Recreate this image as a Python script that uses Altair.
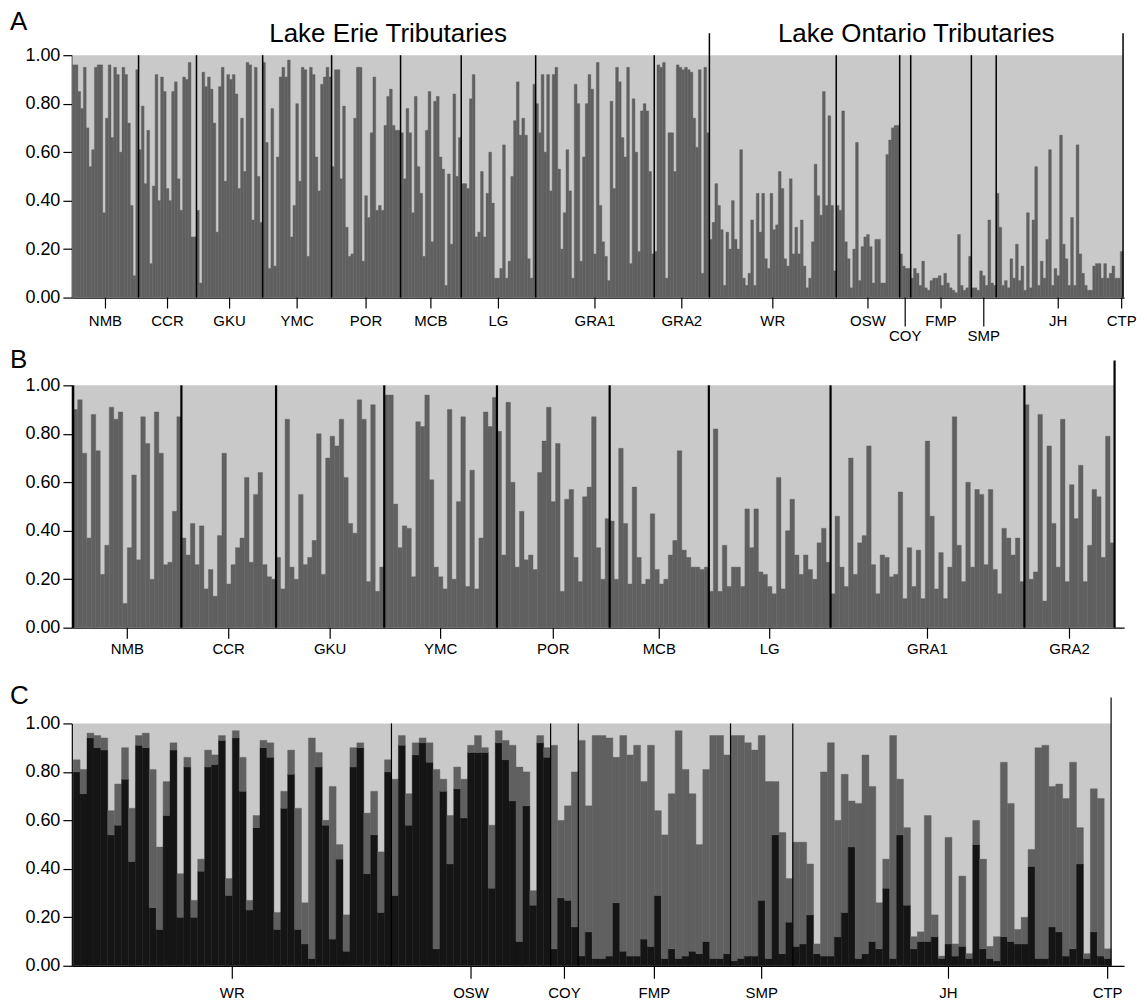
import altair as alt
import pandas as pd

FONT = "Liberation Sans"
LIGHT = "#c9c9c9"
DARK = "#606060"
BLACK = "#151515"

# ---------------- Panel A : all tributaries, proportion of dark cluster ----------------
A_NMB = [0.96, 0.96, 0.85, 0.78, 0.95, 0.70, 0.54, 0.61, 0.95, 0.96, 0.96, 0.35, 0.74, 0.96, 0.66, 0.95, 0.92, 0.60, 0.95, 0.92, 0.72, 0.38, 0.09, 0.94]
A_CCR = [0.61, 0.79, 0.47, 0.69, 0.14, 0.46, 0.92, 0.40, 0.91, 0.85, 0.45, 0.40, 0.85, 0.89, 0.49, 0.36, 0.91, 0.90, 0.97, 0.25, 0.25]
A_GKU = [0.36, 0.06, 0.93, 0.87, 0.91, 0.86, 0.72, 0.27, 0.87, 0.95, 0.48, 0.92, 0.90, 0.92, 0.84, 0.45, 0.74, 0.52, 0.97, 0.96, 0.32, 0.95, 0.50, 0.31]
A_YMC = [0.97, 0.64, 0.12, 0.78, 0.13, 0.58, 0.91, 0.95, 0.91, 0.98, 0.25, 0.38, 0.80, 0.48, 0.95, 0.94, 0.17, 0.95, 0.92, 0.58, 0.44, 0.88, 0.91, 0.95, 0.91]
A_POR = [0.54, 0.94, 0.94, 0.49, 0.79, 0.29, 0.17, 0.18, 0.74, 0.95, 0.95, 0.15, 0.42, 0.33, 0.68, 0.91, 0.36, 0.38, 0.36, 0.71, 0.83, 0.86, 0.71, 0.69, 0.69]
A_MCB = [0.68, 0.49, 0.78, 0.68, 0.35, 0.83, 0.54, 0.43, 0.17, 0.69, 0.85, 0.23, 0.81, 0.83, 0.58, 0.53, 0.05, 0.51, 0.22, 0.84, 0.50, 0.66]
A_LG = [0.47, 0.47, 0.45, 0.82, 0.92, 0.25, 0.27, 0.52, 0.25, 0.43, 0.60, 0.39, 0.08, 0.08, 0.12, 0.63, 0.08, 0.15, 0.50, 0.73, 0.89, 0.67, 0.74, 0.67, 0.16, 0.08, 0.88]
A_GRA1 = [0.80, 0.68, 0.92, 0.60, 0.92, 0.44, 0.92, 0.95, 0.53, 0.20, 0.35, 0.61, 0.44, 0.08, 0.88, 0.80, 0.15, 0.58, 0.80, 0.92, 0.86, 0.18, 0.97,
          0.38, 0.23, 0.17, 0.07, 0.81, 0.45, 0.95, 0.89, 0.66, 0.58, 0.95, 0.14, 0.82, 0.60, 0.19, 0.77, 0.80, 0.77, 0.52, 0.18]
A_GRA2 = [0.19, 0.96, 0.95, 0.97, 0.08, 0.68, 0.68, 0.52, 0.96, 0.95, 0.94, 0.95, 0.94, 0.93, 0.74, 0.62, 0.94, 0.10, 0.95, 0.68]
A_WR = [0.24, 0.31, 0.47, 0.38, 0.28, 0.05, 0.27, 0.20, 0.40, 0.24, 0.20, 0.61, 0.08, 0.05, 0.10, 0.32, 0.05, 0.43, 0.27, 0.43, 0.16, 0.12, 0.43,
        0.28, 0.30, 0.52, 0.45, 0.16, 0.13, 0.49, 0.18, 0.29, 0.18, 0.32, 0.13, 0.04, 0.08, 0.23, 0.55, 0.42, 0.34, 0.85, 0.38, 0.75, 0.38, 0.11]
A_OSW = [0.38, 0.36, 0.77, 0.23, 0.16, 0.04, 0.20, 0.64, 0.07, 0.21, 0.25, 0.26, 0.21, 0.06, 0.24, 0.24, 0.06, 0.06, 0.59, 0.65, 0.70, 0.71, 0.71]
A_COY = [0.18, 0.13, 0.12, 0.12]
A_FMP = [0.08, 0.12, 0.10, 0.05, 0.15, 0.04, 0.03, 0.07, 0.08, 0.08, 0.09, 0.05, 0.10, 0.06, 0.04, 0.03, 0.02, 0.26, 0.05, 0.03, 0.04, 0.17]
A_SMP = [0.04, 0.04, 0.03, 0.11, 0.09, 0.05, 0.32, 0.06, 0.05]
A_JH = [0.43, 0.29, 0.05, 0.07, 0.04, 0.16, 0.08, 0.22, 0.07, 0.13, 0.03, 0.35, 0.04, 0.32, 0.54, 0.05, 0.15, 0.08, 0.24, 0.61, 0.05, 0.12, 0.09,
        0.67, 0.22, 0.16, 0.05, 0.33, 0.05, 0.63, 0.18, 0.10, 0.05, 0.03, 0.03, 0.13, 0.14, 0.14, 0.08, 0.14, 0.08, 0.10, 0.13, 0.08, 0.08]
A_CTP = [0.19]

A_GROUPS = ["NMB", "CCR", "GKU", "YMC", "POR", "MCB", "LG", "GRA1", "GRA2",
            "WR", "OSW", "COY", "FMP", "SMP", "JH", "CTP"]
A_VALUES = [A_NMB, A_CCR, A_GKU, A_YMC, A_POR, A_MCB, A_LG, A_GRA1, A_GRA2,
            A_WR, A_OSW, A_COY, A_FMP, A_SMP, A_JH, A_CTP]
A_LOW_LABELS = ["COY", "SMP"]
A_REGIONS = ["Lake Erie Tributaries", "Lake Ontario Tributaries"]

# ---------------- Panel B : Lake Erie only ----------------
B_NMB = [0.90, 0.94, 0.72, 0.37, 0.88, 0.73, 0.22, 0.34, 0.91, 0.86, 0.89, 0.10, 0.33, 0.63, 0.28, 0.87, 0.76, 0.20, 0.89, 0.72, 0.26, 0.27, 0.48, 0.87]
B_CCR = [0.37, 0.30, 0.43, 0.26, 0.42, 0.16, 0.24, 0.13, 0.38, 0.72, 0.18, 0.26, 0.33, 0.37, 0.62, 0.27, 0.55, 0.64, 0.26, 0.21, 0.20]
B_GKU = [0.29, 0.16, 0.86, 0.25, 0.20, 0.55, 0.26, 0.29, 0.36, 0.80, 0.22, 0.70, 0.79, 0.75, 0.86, 0.62, 0.43, 0.39, 0.94, 0.86, 0.19, 0.92, 0.15, 0.25]
B_YMC = [0.96, 0.96, 0.51, 0.33, 0.42, 0.41, 0.21, 0.85, 0.83, 0.96, 0.61, 0.25, 0.21, 0.16, 0.90, 0.20, 0.52, 0.87, 0.17, 0.65, 0.16, 0.37, 0.89, 0.83, 0.95]
B_POR = [0.81, 0.30, 0.93, 0.60, 0.25, 0.48, 0.28, 0.30, 0.24, 0.64, 0.77, 0.91, 0.52, 0.76, 0.15, 0.53, 0.57, 0.29, 0.19, 0.54, 0.58, 0.87, 0.33, 0.20, 0.45]
B_MCB = [0.44, 0.20, 0.74, 0.43, 0.18, 0.58, 0.29, 0.18, 0.20, 0.47, 0.24, 0.18, 0.20, 0.30, 0.36, 0.73, 0.32, 0.29, 0.25, 0.25, 0.24, 0.25]
B_LG = [0.15, 0.82, 0.15, 0.34, 0.17, 0.25, 0.25, 0.17, 0.49, 0.33, 0.49, 0.23, 0.22, 0.17, 0.14, 0.62, 0.16, 0.40, 0.53, 0.30, 0.22, 0.30, 0.24, 0.20, 0.35, 0.41, 0.27]
B_GRA1 = [0.14, 0.46, 0.25, 0.17, 0.70, 0.22, 0.35, 0.38, 0.75, 0.26, 0.14, 0.30, 0.29, 0.21, 0.22, 0.56, 0.12, 0.33, 0.17, 0.32, 0.12, 0.77,
          0.46, 0.16, 0.31, 0.12, 0.25, 0.87, 0.34, 0.19, 0.60, 0.25, 0.57, 0.55, 0.26, 0.57, 0.24, 0.14, 0.41, 0.37, 0.30, 0.37, 0.19]
B_GRA2 = [0.92, 0.20, 0.23, 0.88, 0.11, 0.75, 0.43, 0.25, 0.86, 0.19, 0.59, 0.45, 0.67, 0.19, 0.34, 0.57, 0.54, 0.29, 0.79, 0.35]

B_GROUPS = ["NMB", "CCR", "GKU", "YMC", "POR", "MCB", "LG", "GRA1", "GRA2"]
B_VALUES = [B_NMB, B_CCR, B_GKU, B_YMC, B_POR, B_MCB, B_LG, B_GRA1, B_GRA2]

# ---------------- Panel C : Lake Ontario only (K = 3) ----------------
C_WR_Q1 = [0.80, 0.71, 0.94, 0.90, 0.89, 0.54, 0.58, 0.77, 0.43, 0.91, 0.90, 0.24, 0.15, 0.62, 0.89, 0.20, 0.82, 0.20, 0.39, 0.82, 0.83, 0.93, 0.29,
           0.94, 0.72, 0.23, 0.57, 0.90, 0.86, 0.15, 0.65, 0.79, 0.15, 0.09, 0.03, 0.82, 0.58, 0.11, 0.44, 0.06, 0.82, 0.90, 0.38, 0.54, 0.22, 0.80]
C_WR_Q2 = [0.05, 0.10, 0.02, 0.05, 0.05, 0.10, 0.17, 0.13, 0.22, 0.04, 0.06, 0.57, 0.34, 0.14, 0.03, 0.18, 0.04, 0.07, 0.05, 0.07, 0.04, 0.02, 0.07,
           0.03, 0.14, 0.04, 0.05, 0.03, 0.06, 0.07, 0.07, 0.10, 0.50, 0.17, 0.91, 0.06, 0.02, 0.63, 0.06, 0.15, 0.08, 0.02, 0.25, 0.18, 0.25, 0.05]
C_OSW_Q1 = [0.29, 0.91, 0.58, 0.87, 0.92, 0.84, 0.07, 0.72, 0.42, 0.73, 0.61, 0.88, 0.88, 0.88, 0.32, 0.92, 0.85, 0.68, 0.10, 0.66, 0.25, 0.92, 0.86]
C_OSW_Q2 = [0.48, 0.04, 0.13, 0.05, 0.02, 0.08, 0.74, 0.05, 0.20, 0.09, 0.16, 0.03, 0.07, 0.02, 0.26, 0.05, 0.08, 0.23, 0.72, 0.14, 0.06, 0.03, 0.04]
C_COY_Q1 = [0.07, 0.28, 0.27, 0.16]
C_COY_Q2 = [0.84, 0.32, 0.39, 0.64]
C_FMP_Q1 = [0.04, 0.14, 0.03, 0.03, 0.04, 0.26, 0.06, 0.04, 0.04, 0.11, 0.08, 0.29, 0.03, 0.07, 0.03, 0.04, 0.06, 0.05, 0.10, 0.03, 0.03, 0.05]
C_FMP_Q2 = [0.89, 0.52, 0.92, 0.92, 0.90, 0.60, 0.89, 0.83, 0.87, 0.65, 0.83, 0.35, 0.51, 0.64, 0.94, 0.77, 0.65, 0.45, 0.71, 0.92, 0.92, 0.82]
C_SMP_Q1 = [0.02, 0.03, 0.04, 0.04, 0.27, 0.03, 0.54, 0.05, 0.18]
C_SMP_Q2 = [0.93, 0.92, 0.88, 0.85, 0.68, 0.73, 0.22, 0.50, 0.18]
C_JH_Q1 = [0.08, 0.09, 0.21, 0.05, 0.04, 0.04, 0.12, 0.22, 0.49, 0.03, 0.05, 0.10, 0.07, 0.32, 0.03, 0.54, 0.25, 0.07, 0.10, 0.10, 0.12, 0.03, 0.09,
           0.04, 0.08, 0.03, 0.50, 0.07, 0.03, 0.02, 0.12, 0.10, 0.09, 0.09, 0.41, 0.03, 0.03, 0.16, 0.14, 0.04, 0.07, 0.42, 0.03, 0.14, 0.04]
C_JH_Q2 = [0.43, 0.42, 0.21, 0.04, 0.76, 0.88, 0.48, 0.57, 0.19, 0.64, 0.82, 0.64, 0.19, 0.12, 0.92, 0.23, 0.32, 0.05, 0.04, 0.52, 0.09, 0.01, 0.44,
           0.05, 0.29, 0.02, 0.10, 0.37, 0.05, 0.10, 0.72, 0.57, 0.06, 0.11, 0.07, 0.87, 0.88, 0.58, 0.61, 0.65, 0.77, 0.15, 0.02, 0.59, 0.65]
C_CTP_Q1 = [0.03]
C_CTP_Q2 = [0.04]

C_GROUPS = ["WR", "OSW", "COY", "FMP", "SMP", "JH", "CTP"]
C_Q1 = [C_WR_Q1, C_OSW_Q1, C_COY_Q1, C_FMP_Q1, C_SMP_Q1, C_JH_Q1, C_CTP_Q1]
C_Q2 = [C_WR_Q2, C_OSW_Q2, C_COY_Q2, C_FMP_Q2, C_SMP_Q2, C_JH_Q2, C_CTP_Q2]

Y_TICKS = [0.0, 0.2, 0.4, 0.6, 0.8, 1.0]

# ---------------- layout constants ----------------
W = 1055
H = 243
CLUSTERS = ["black", "dark"]
CLUSTER_COLORS = [BLACK, DARK]


def group_table(names, sizes, low=()):
    rows, start = [], 0
    for n, s in zip(names, sizes):
        rows.append({"name": n, "start": start, "end": start + s,
                     "center": start + s / 2, "low": n in low})
        start += s
    return pd.DataFrame(rows), start


def make_panel(bars, groups, n_total, x_dom, sep_pos, tall_pos, sep_w, tall_top,
               letter, letter_y, tick_len, label_dy, low_tick_len=0, low_label_dy=0,
               region_df=None):
    xs = alt.Scale(domain=list(x_dom), nice=False, zero=False)
    ys = alt.Scale(domain=[0, 1], nice=False, zero=False)
    bg_df = pd.DataFrame({"x0": [0], "x1": [n_total], "y0": [0.0], "y1": [1.0]})
    layers = []
    layers.append(alt.Chart(bg_df).mark_rect(color=LIGHT).encode(
        x=alt.X("x0:Q", scale=xs, axis=alt.Axis(labels=False, ticks=False, grid=False, title=None,
                                                domainColor="black", domainWidth=1.2)),
        x2="x1:Q",
        y=alt.Y("y0:Q", scale=ys, axis=alt.Axis(values=Y_TICKS, format=".2f", grid=False, title=None,
                                                tickSize=9, tickColor="black", tickWidth=1.2,
                                                domainColor="black", domainWidth=1.2,
                                                labelFont=FONT, labelFontSize=18, labelColor="black",
                                                labelPadding=3)),
        y2="y1:Q"))
    cscale = alt.Scale(domain=CLUSTERS, range=CLUSTER_COLORS)
    layers.append(alt.Chart(bars).mark_rect(strokeWidth=0.4).encode(
        x=alt.X("x0:Q", scale=xs), x2="x1:Q",
        y=alt.Y("y0:Q", scale=ys), y2="y1:Q",
        color=alt.Color("cl:N", scale=cscale, legend=None),
        stroke=alt.Stroke("cl:N", scale=cscale, legend=None)))
    if len(sep_pos):
        sdf = pd.DataFrame({"p": sep_pos, "a": [0.0] * len(sep_pos), "b": [1.0] * len(sep_pos)})
        layers.append(alt.Chart(sdf).mark_rule(color="black", strokeWidth=sep_w).encode(
            x=alt.X("p:Q", scale=xs), y=alt.Y("a:Q", scale=ys), y2="b:Q"))
    tdf = pd.DataFrame({"p": tall_pos})
    layers.append(alt.Chart(tdf).mark_rule(color="black", strokeWidth=sep_w).encode(
        x=alt.X("p:Q", scale=xs), y=alt.value(tall_top), y2=alt.value(H)))
    norm = groups[~groups["low"]]
    low = groups[groups["low"]]
    layers.append(alt.Chart(norm).mark_rule(color="black", strokeWidth=1.2).encode(
        x=alt.X("center:Q", scale=xs), y=alt.value(H), y2=alt.value(H + tick_len)))
    layers.append(alt.Chart(norm).mark_text(font=FONT, fontSize=15, baseline="alphabetic",
                                            align="center", color="black").encode(
        x=alt.X("center:Q", scale=xs), y=alt.value(H + label_dy), text="name:N"))
    if len(low):
        layers.append(alt.Chart(low).mark_rule(color="black", strokeWidth=1.2).encode(
            x=alt.X("center:Q", scale=xs), y=alt.value(H), y2=alt.value(H + low_tick_len)))
        layers.append(alt.Chart(low).mark_text(font=FONT, fontSize=15, baseline="alphabetic",
                                               align="center", color="black").encode(
            x=alt.X("center:Q", scale=xs), y=alt.value(H + low_label_dy), text="name:N"))
    if region_df is not None:
        layers.append(alt.Chart(region_df).mark_text(font=FONT, fontSize=26, baseline="middle",
                                                     align="center", color="black").encode(
            x=alt.X("c:Q", scale=xs), y=alt.value(-21), text="t:N"))
    ldf = pd.DataFrame({"t": [letter]})
    layers.append(alt.Chart(ldf).mark_text(font=FONT, fontSize=26, baseline="middle",
                                           align="left", color="black").encode(
        x=alt.value(-62), y=alt.value(letter_y), text="t:N"))
    return alt.layer(*layers).properties(width=W, height=H)


# ---------- Panel A data ----------
a_groups, a_n = group_table(A_GROUPS, [len(v) for v in A_VALUES], A_LOW_LABELS)
a_rows, i = [], 0
for vals in A_VALUES:
    for v in vals:
        a_rows.append({"x0": i, "x1": i + 1, "y0": 0.0, "y1": v, "cl": "dark"})
        i += 1
a_bars = pd.DataFrame(a_rows)
n_erie = sum(len(v) for v in A_VALUES[:9])
a_sep = [e for n, e in zip(a_groups["name"], a_groups["end"]) if n not in ("GRA2", "JH", "CTP")]
a_region = pd.DataFrame({"t": A_REGIONS, "c": [n_erie / 2 - 1, n_erie + (a_n - n_erie) / 2]})
chartA = make_panel(a_bars, a_groups, a_n, (-0.2, a_n + 0.36), a_sep, [n_erie, a_n], 1.5, -22,
                    "A", -33, 11, 29, 29, 44, region_df=a_region)

# ---------- Panel B data ----------
b_groups, b_n = group_table(B_GROUPS, [len(v) for v in B_VALUES])
b_rows, i = [], 0
for vals in B_VALUES:
    for v in vals:
        b_rows.append({"x0": i, "x1": i + 1, "y0": 0.0, "y1": v, "cl": "dark"})
        i += 1
b_bars = pd.DataFrame(b_rows)
b_sep = [0] + list(b_groups["end"][:-1])
chartB = make_panel(b_bars, b_groups, b_n, (-0.3, b_n + 2.1), b_sep, [b_n], 2.2, -25,
                    "B", -25, 11, 26)

# ---------- Panel C data ----------
c_groups, c_n = group_table(C_GROUPS, [len(v) for v in C_Q1])
c_rows, i = [], 0
for q1s, q2s in zip(C_Q1, C_Q2):
    for q1, q2 in zip(q1s, q2s):
        c_rows.append({"x0": i, "x1": i + 1, "y0": 0.0, "y1": q1, "cl": "black"})
        c_rows.append({"x0": i, "x1": i + 1, "y0": q1, "y1": q1 + q2, "cl": "dark"})
        i += 1
c_bars = pd.DataFrame(c_rows)
c_sep = list(c_groups["end"][:-2])
chartC = make_panel(c_bars, c_groups, c_n, (-0.19, c_n + 1.87), c_sep, [c_n], 1.2, -26,
                    "C", -27, 13, 32)

top = alt.vconcat(chartA, chartB, spacing=3)
chart = alt.vconcat(top, chartC, spacing=27).properties(
    padding={"left": 2, "right": 2, "top": 0, "bottom": 2}).configure_view(stroke=None)

chart.save("out.html", embed_options={"renderer": "svg", "actions": False})
